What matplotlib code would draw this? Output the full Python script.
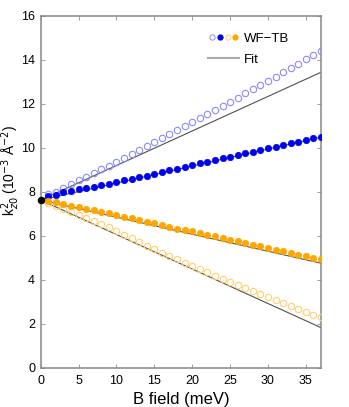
import matplotlib
matplotlib.use("Agg")
import matplotlib.pyplot as plt
from matplotlib.lines import Line2D
from matplotlib.legend_handler import HandlerTuple

plt.rcParams['font.family'] = ['Liberation Sans', 'DejaVu Sans']

B = list(range(1, 38))
B0 = [0]
k0 = [7.62]

blue_open = [7.88, 8.00, 8.15, 8.35, 8.52, 8.68, 8.86, 9.02, 9.18, 9.36,
             9.55, 9.73, 9.88, 10.06, 10.26, 10.43, 10.61, 10.79, 10.99, 11.17,
             11.33, 11.53, 11.71, 11.90, 12.09, 12.27, 12.47, 12.65, 12.85, 13.05,
             13.23, 13.43, 13.62, 13.82, 14.02, 14.21, 14.40]
blue_fill = [7.79, 7.86, 7.97, 8.03, 8.11, 8.17, 8.23, 8.30, 8.36, 8.44,
             8.52, 8.59, 8.67, 8.73, 8.82, 8.90, 8.97, 9.05, 9.13, 9.21,
             9.29, 9.36, 9.43, 9.52, 9.59, 9.67, 9.75, 9.82, 9.90, 9.97,
             10.05, 10.12, 10.20, 10.27, 10.35, 10.43, 10.50]
orange_fill = [7.57, 7.52, 7.45, 7.36, 7.30, 7.23, 7.15, 7.09, 7.02, 6.95,
               6.86, 6.79, 6.71, 6.64, 6.56, 6.49, 6.41, 6.32, 6.27, 6.20,
               6.12, 6.05, 5.97, 5.90, 5.82, 5.75, 5.67, 5.59, 5.52, 5.44,
               5.36, 5.29, 5.21, 5.14, 5.06, 5.00, 4.93]
orange_open = [7.50, 7.35, 7.21, 7.08, 6.94, 6.79, 6.65, 6.52, 6.38, 6.20,
               6.04, 5.88, 5.71, 5.55, 5.38, 5.23, 5.07, 4.93, 4.77, 4.62,
               4.47, 4.33, 4.18, 4.03, 3.90, 3.76, 3.62, 3.47, 3.34, 3.21,
               3.09, 2.94, 2.80, 2.67, 2.53, 2.41, 2.29]

fit_B = [0, 37]
fit_blue_open = [7.62, 13.43]
fit_blue_fill = [7.62, 10.48]
fit_orange_fill = [7.62, 4.75]
fit_orange_open = [7.62, 1.82]

xticks = [0, 5, 10, 15, 20, 25, 30, 35]
yticks = [0, 2, 4, 6, 8, 10, 12, 14, 16]

fig = plt.figure(figsize=(3.49, 4.07), dpi=100)
ax = fig.add_axes([0.1166, 0.0966, 0.8032, 0.8648])

lc = '#505050'
for fy in (fit_blue_open, fit_blue_fill, fit_orange_fill, fit_orange_open):
    ax.plot(fit_B, fy, color=lc, lw=0.8, zorder=2)

ms = 4.6
c_bo = '#8a8aff'
c_bf = '#0000f0'
c_of = '#ffa500'
c_oo = '#ffcf70'
ax.plot(B, blue_open, 'o', ms=ms, mfc='none', mec=c_bo, mew=0.8, zorder=3)
ax.plot(B, blue_fill, 'o', ms=ms, mfc=c_bf, mec=c_bf, mew=0.5, zorder=3)
ax.plot(B, orange_open, 'o', ms=ms, mfc='none', mec=c_oo, mew=0.8, zorder=3)
ax.plot(B, orange_fill, 'o', ms=ms, mfc=c_of, mec=c_of, mew=0.5, zorder=3)
ax.plot(B0, k0, 'o', ms=4.4, color='black', zorder=5, clip_on=False)

ax.set_xlim(0, 37)
ax.set_ylim(0, 16)
ax.set_xticks(xticks)
ax.set_yticks(yticks)
ax.tick_params(direction='in', length=3, width=0.6, color='#909090',
               labelsize=9, top=True, right=True)
ax.tick_params(axis='x', pad=5)
ax.tick_params(axis='y', pad=4)
for s in ax.spines.values():
    s.set_color('#888888')
    s.set_linewidth(1.1)

ax.set_xlabel('B field (meV)', fontsize=12, labelpad=4)
ax.set_ylabel('k$^2_{z0}$ (10$^{-3}$ Å$^{-2}$)', fontsize=10)
ax.yaxis.set_label_coords(-0.066, 0.56)

lms = 3.8
h_wf = tuple(Line2D([], [], ls='none', marker='o', ms=lms, mfc=f, mec=e, mew=0.7)
             for f, e in (('none', c_bo), (c_bf, c_bf), ('none', c_oo), (c_of, c_of)))
h_fit = Line2D([], [], color='#aaaaaa', lw=1.5)
ax.legend([h_wf, h_fit], ['WF\u2212TB', 'Fit'],
          handler_map={tuple: HandlerTuple(ndivide=None, pad=0.0)},
          loc='upper left', bbox_to_anchor=(0.555, 0.985), frameon=False,
          fontsize=9.5, handlelength=2.35, handletextpad=0.35, labelspacing=0.65)

fig.savefig('out.png', dpi=100)
